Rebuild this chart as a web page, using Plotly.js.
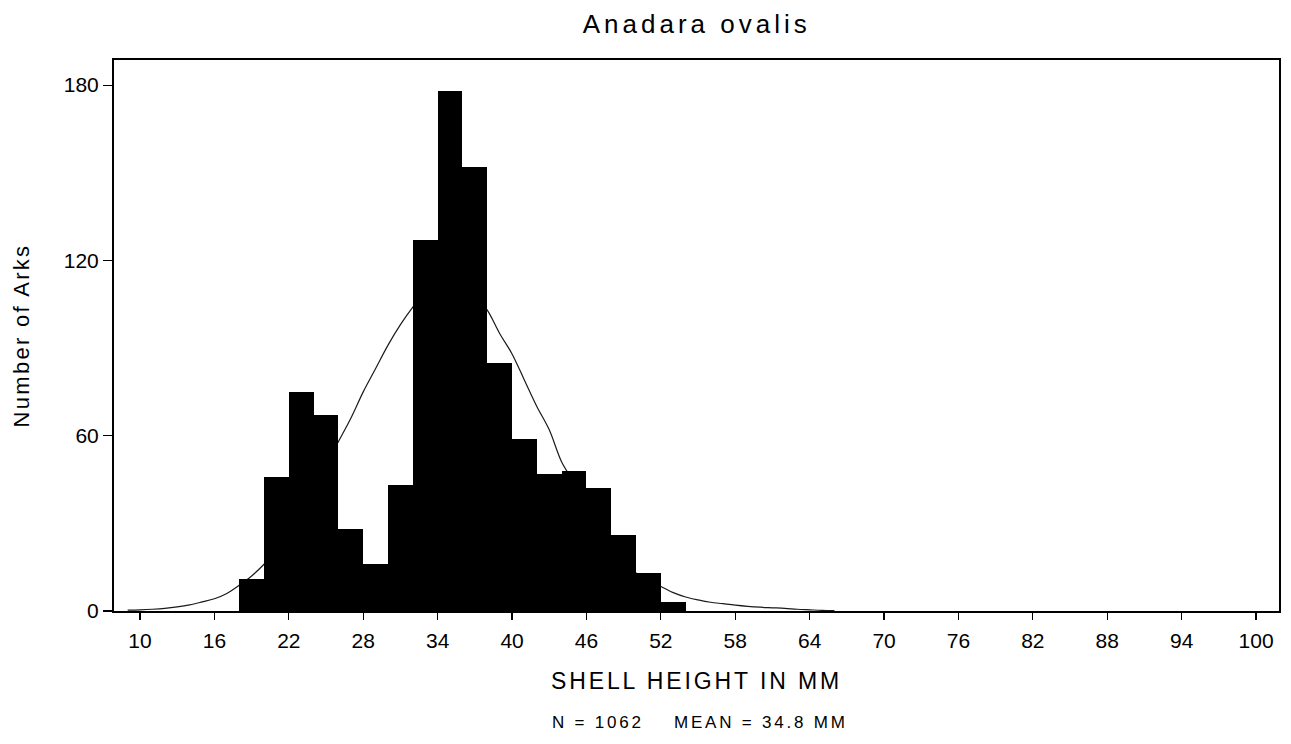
<!DOCTYPE html>
<html>
<head>
<meta charset="utf-8">
<script src="https://cdn.plot.ly/plotly-3.0.1.min.js"></script>
<style>
  html, body { margin: 0; padding: 0; background: #fff; }
  #chart { width: 1291px; height: 744px; }
  .gtitle { letter-spacing: 4px; }
  .xtitle { letter-spacing: 2.9px; }
  .ytitle { letter-spacing: 2.3px; }
  .annotation-text { letter-spacing: 2.8px; }
</style>
</head>
<body>
<div id="chart"></div>
<script>
// Histogram bins (2 mm wide), given by bin centres
const binCenters = [19, 21, 23, 25, 27, 29, 31, 33, 35, 37, 39, 41, 43, 45, 47, 49, 51, 53];
const counts     = [11, 46, 75, 67, 28, 16, 43, 127, 178, 152, 85, 59, 47, 48, 42, 26, 13, 3];

// Fitted curve
const curveX = [9, 10, 11, 12, 13, 14, 15, 16, 17, 18, 19, 20, 21, 22, 23, 24, 25, 26, 27, 28, 29, 30,
                31, 32, 33, 34, 35, 36, 37, 38, 39, 40, 41, 42, 43, 44, 45, 46, 47, 48, 49, 50,
                51, 52, 53, 54, 55, 56, 57, 58, 59, 60, 61, 62, 63, 64, 65, 66];
const curveY = [0.3, 0.4, 0.6, 0.9, 1.4, 2.1, 3.1, 4.2, 6, 8.8, 12, 16, 21, 27, 34, 42, 50, 58, 66, 75, 83, 91,
                98, 104, 109, 112, 113, 112, 108, 103, 95, 88, 79, 70, 62, 51, 44, 36, 29, 23, 17, 13,
                10, 8.4, 6.3, 4.8, 3.8, 3.0, 2.5, 2.0, 1.6, 1.3, 1.1, 0.9, 0.6, 0.4, 0.2, 0.1];

const xTickVals = [10, 16, 22, 28, 34, 40, 46, 52, 58, 64, 70, 76, 82, 88, 94, 100];
const yTickVals = [0, 60, 120, 180];

const titleText = 'Anadara ovalis';
const xTitleText = 'SHELL HEIGHT IN MM';
const yTitleText = 'Number of Arks';
const noteText = 'N = 1062\u00a0\u00a0\u00a0\u00a0MEAN = 34.8 MM';

const FONT = 'Liberation Sans, Arial, Helvetica, sans-serif';
const X_RANGE = [7.9, 101.85];
const Y_RANGE = [0, 188.6];

const traces = [
  {
    type: 'scatter',
    mode: 'lines',
    x: curveX,
    y: curveY,
    xaxis: 'x', yaxis: 'y',
    line: { color: '#1a1a1a', width: 1.2, shape: 'spline' },
    hoverinfo: 'skip',
    showlegend: false
  },
  {
    // bars sit on an overlaying subplot so they cover the curve
    type: 'bar',
    x: binCenters,
    y: counts,
    xaxis: 'x2', yaxis: 'y2',
    width: 2,
    marker: { color: '#000000', line: { width: 0 } },
    showlegend: false
  }
];

const layout = {
  width: 1291,
  height: 744,
  paper_bgcolor: '#ffffff',
  plot_bgcolor: '#ffffff',
  margin: { l: 114, r: 12, t: 60, b: 133 },
  bargap: 0,
  showlegend: false,
  font: { family: FONT, color: '#000' },
  title: {
    text: titleText,
    font: { family: FONT, size: 26, color: '#000' },
    xref: 'container', x: 0.5397, xanchor: 'center',
    yref: 'container', y: 0.968, yanchor: 'middle'
  },
  xaxis: {
    range: X_RANGE,
    tickmode: 'array',
    tickvals: xTickVals,
    ticktext: xTickVals.map(String),
    ticks: 'outside', ticklen: 7, tickwidth: 1.2, tickcolor: '#000',
    ticklabelstandoff: 3,
    tickfont: { family: FONT, size: 21, color: '#000' },
    showline: true, linecolor: '#000', linewidth: 2, mirror: true,
    showgrid: false, zeroline: false,
    title: { text: xTitleText, font: { family: FONT, size: 23, color: '#000' }, standoff: 22 }
  },
  yaxis: {
    range: Y_RANGE,
    tickmode: 'array',
    tickvals: yTickVals,
    ticktext: yTickVals.map(String),
    ticks: 'outside', ticklen: 9, tickwidth: 1.2, tickcolor: '#000',
    tickfont: { family: FONT, size: 21, color: '#000' },
    showline: true, linecolor: '#000', linewidth: 2, mirror: true,
    showgrid: false, zeroline: false,
    title: { text: yTitleText, font: { family: FONT, size: 22, color: '#000' }, standoff: 28 }
  },
  xaxis2: {
    overlaying: 'x', anchor: 'y2', range: X_RANGE, visible: false,
    showgrid: false, zeroline: false
  },
  yaxis2: {
    overlaying: 'y', anchor: 'x2', range: Y_RANGE, visible: false,
    showgrid: false, zeroline: false
  },
  annotations: [
    {
      text: noteText,
      xref: 'paper', yref: 'paper',
      x: 0.503, y: -0.2016,
      xanchor: 'center', yanchor: 'middle',
      showarrow: false,
      font: { family: FONT, size: 17, color: '#000' }
    }
  ]
};

Plotly.newPlot('chart', traces, layout, { displayModeBar: false, staticPlot: true });
</script>
</body>
</html>
